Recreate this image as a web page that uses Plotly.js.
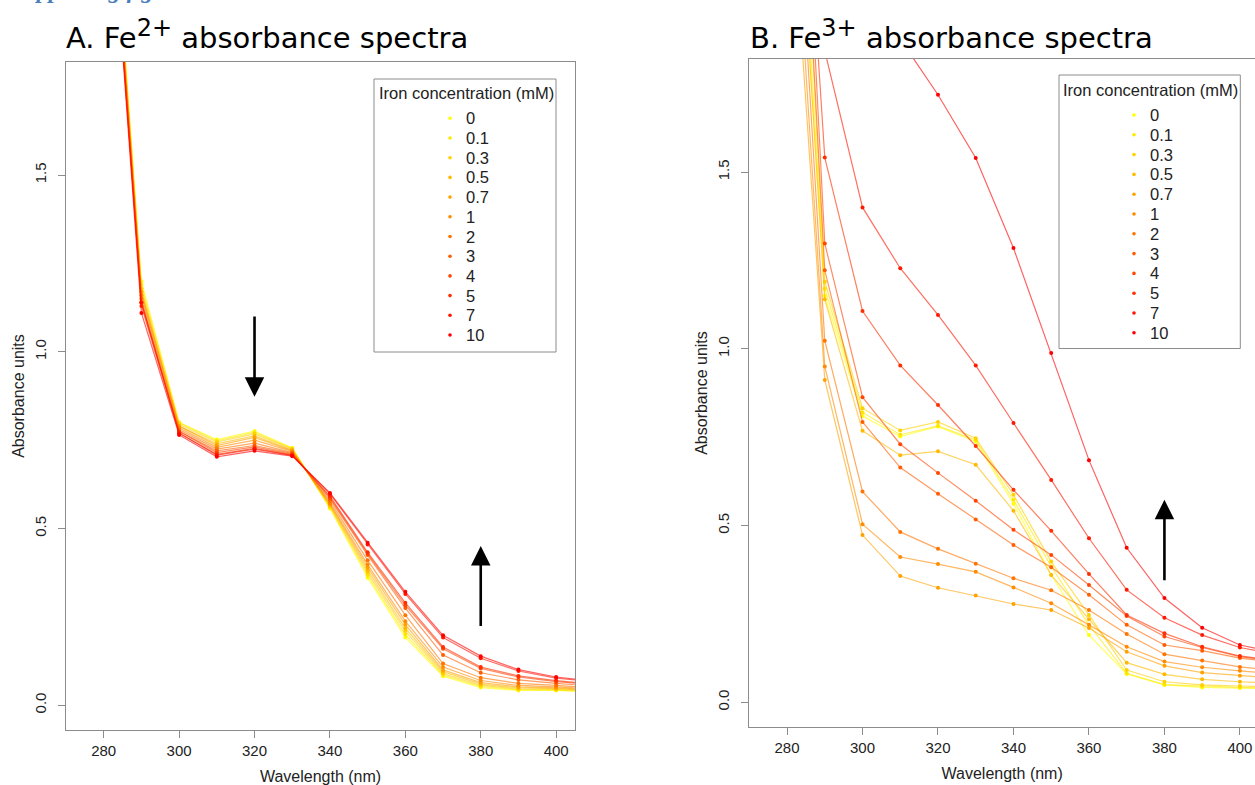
<!DOCTYPE html>
<html><head><meta charset="utf-8">
<script src="https://cdn.plot.ly/plotly-3.0.1.min.js"></script>
<style>html,body{margin:0;padding:0;background:#fff}#chart{width:1255px;height:785px}</style>
</head><body><div id="chart"></div>
<script>
// ---------- DATA ----------
const wavelengths = [280, 290, 300, 310, 320, 330, 340, 350, 360, 370, 380, 390, 400, 410];
const concentrations = ['0', '0.1', '0.3', '0.5', '0.7', '1', '2', '3', '4', '5', '7', '10'];
const seriesColors = ['#FFFF00', '#FFE800', '#FFD100', '#FFB900', '#FFA200', '#FF8B00',
                      '#FF7400', '#FF5D00', '#FF4600', '#FF2E00', '#FF1700', '#FF0000'];

// Fe2+ absorbance (panel A)
const fe2_c0   = [2.68, 1.20, 0.800, 0.752, 0.776, 0.728, 0.557, 0.361, 0.192, 0.082, 0.050, 0.042, 0.042, 0.038];
const fe2_c0_1 = [2.67, 1.19, 0.800, 0.748, 0.772, 0.727, 0.560, 0.368, 0.200, 0.086, 0.053, 0.044, 0.043, 0.039];
const fe2_c0_3 = [2.66, 1.18, 0.795, 0.745, 0.768, 0.725, 0.563, 0.375, 0.210, 0.090, 0.056, 0.046, 0.045, 0.040];
const fe2_c0_5 = [2.65, 1.17, 0.790, 0.740, 0.762, 0.722, 0.566, 0.382, 0.218, 0.095, 0.060, 0.049, 0.047, 0.042];
const fe2_c0_7 = [2.65, 1.17, 0.790, 0.735, 0.758, 0.720, 0.569, 0.390, 0.228, 0.100, 0.064, 0.052, 0.049, 0.044];
const fe2_c1   = [2.64, 1.16, 0.785, 0.730, 0.750, 0.718, 0.572, 0.398, 0.238, 0.108, 0.070, 0.056, 0.052, 0.046];
const fe2_c2   = [2.63, 1.15, 0.780, 0.725, 0.742, 0.715, 0.578, 0.410, 0.255, 0.118, 0.078, 0.062, 0.056, 0.049];
const fe2_c3   = [2.62, 1.14, 0.775, 0.720, 0.735, 0.713, 0.584, 0.425, 0.275, 0.142, 0.092, 0.072, 0.062, 0.054];
const fe2_c4   = [2.61, 1.14, 0.775, 0.715, 0.731, 0.710, 0.588, 0.429, 0.283, 0.160, 0.104, 0.080, 0.067, 0.058];
const fe2_c5   = [2.60, 1.13, 0.770, 0.710, 0.727, 0.708, 0.592, 0.433, 0.290, 0.165, 0.108, 0.083, 0.070, 0.060];
const fe2_c7   = [2.60, 1.14, 0.770, 0.708, 0.725, 0.707, 0.598, 0.455, 0.315, 0.192, 0.133, 0.097, 0.077, 0.066];
const fe2_c10  = [2.59, 1.11, 0.765, 0.703, 0.720, 0.705, 0.601, 0.460, 0.321, 0.198, 0.139, 0.101, 0.080, 0.068];

// Fe3+ absorbance (panel B)
const fe3_c0   = [2.83, 1.15, 0.810, 0.752, 0.780, 0.738, 0.562, 0.360, 0.190, 0.080, 0.049, 0.042, 0.040, 0.038];
const fe3_c0_1 = [2.95, 1.17, 0.820, 0.757, 0.782, 0.742, 0.573, 0.384, 0.219, 0.082, 0.050, 0.045, 0.042, 0.040];
const fe3_c0_3 = [3.20, 1.19, 0.832, 0.769, 0.793, 0.747, 0.587, 0.398, 0.247, 0.091, 0.058, 0.049, 0.046, 0.043];
const fe3_c0_5 = [2.84, 1.14, 0.768, 0.699, 0.710, 0.672, 0.542, 0.360, 0.235, 0.112, 0.079, 0.065, 0.058, 0.053];
const fe3_c0_7 = [2.48, 0.912, 0.473, 0.357, 0.324, 0.302, 0.278, 0.261, 0.210, 0.143, 0.103, 0.084, 0.075, 0.068];
const fe3_c1   = [2.62, 0.950, 0.504, 0.411, 0.391, 0.369, 0.325, 0.280, 0.219, 0.157, 0.115, 0.099, 0.089, 0.080];
const fe3_c2   = [2.79, 1.023, 0.596, 0.482, 0.434, 0.392, 0.351, 0.317, 0.261, 0.193, 0.136, 0.118, 0.100, 0.090];
const fe3_c3   = [3.22, 1.222, 0.793, 0.664, 0.590, 0.517, 0.445, 0.382, 0.304, 0.219, 0.162, 0.146, 0.125, 0.112];
const fe3_c4   = [3.39, 1.298, 0.863, 0.730, 0.649, 0.570, 0.488, 0.417, 0.332, 0.244, 0.186, 0.155, 0.129, 0.115];
const fe3_c5   = [3.18, 1.541, 1.107, 0.953, 0.841, 0.725, 0.601, 0.485, 0.363, 0.247, 0.195, 0.157, 0.131, 0.117];
const fe3_c7   = [3.00, 1.843, 1.400, 1.228, 1.096, 0.953, 0.790, 0.629, 0.464, 0.318, 0.239, 0.190, 0.155, 0.135];
const fe3_c10  = [3.10, 2.250, 2.050, 1.876, 1.719, 1.540, 1.285, 0.988, 0.685, 0.437, 0.295, 0.211, 0.162, 0.140];

const xTickVals = [280, 300, 320, 340, 360, 380, 400];
const yTickVals = [0, 0.5, 1, 1.5];

const fe2Series = [fe2_c0, fe2_c0_1, fe2_c0_3, fe2_c0_5, fe2_c0_7, fe2_c1, fe2_c2, fe2_c3, fe2_c4, fe2_c5, fe2_c7, fe2_c10];
const fe3Series = [fe3_c0, fe3_c0_1, fe3_c0_3, fe3_c0_5, fe3_c0_7, fe3_c1, fe3_c2, fe3_c3, fe3_c4, fe3_c5, fe3_c7, fe3_c10];

// ---------- BUILD ----------
const W = 1255, H = 785;
const px = v => v / W;
const py = v => 1 - v / H;

function hexToRgba(hex, a) {
  const r = parseInt(hex.slice(1, 3), 16), g = parseInt(hex.slice(3, 5), 16), b = parseInt(hex.slice(5, 7), 16);
  return `rgba(${r},${g},${b},${a})`;
}

const traces = [];
function addPanel(series, xa, ya) {
  series.forEach((vals, i) => {
    traces.push({
      type: 'scatter', mode: 'lines+markers',
      x: wavelengths, y: vals, xaxis: xa, yaxis: ya,
      name: concentrations[i], showlegend: false, hoverinfo: 'x+y+name',
      line: { color: hexToRgba(seriesColors[i], 0.62), width: 1.2 },
      marker: { color: seriesColors[i], size: 4 }
    });
  });
}
addPanel(fe2Series, 'x', 'y');
addPanel(fe3Series, 'x2', 'y2');

const fontMain = 'Liberation Sans, Arial, sans-serif';
const axisLine = '#8c8c8c';
function xAxis(domain, range, mirror, yanchor) {
  return {
    domain, range, anchor: yanchor, showline: true, mirror, linecolor: axisLine, linewidth: 1,
    ticks: 'outside', ticklen: 7, tickcolor: axisLine, tickvals: xTickVals,
    showgrid: false, zeroline: false, ticklabelstandoff: 0,
    tickfont: { family: fontMain, size: 15, color: '#222' },
    title: { text: 'Wavelength (nm)', font: { family: fontMain, size: 16, color: '#222' }, standoff: 12 }
  };
}
function yAxis(domain, mirror, xanchor) {
  return {
    domain, range: [-0.07, 1.82], anchor: xanchor, showline: true, mirror, linecolor: axisLine, linewidth: 1,
    ticks: 'outside', ticklen: 7, tickcolor: axisLine, tickvals: yTickVals, tickformat: '.1f',
    tickangle: -90, showgrid: false, zeroline: false, ticklabelstandoff: 6,
    tickfont: { family: fontMain, size: 15, color: '#222' },
    title: { text: 'Absorbance units', font: { family: fontMain, size: 16, color: '#222' }, standoff: 3 }
  };
}

const shapes = [];
const annotations = [];

// panel titles
const titleFont = { family: 'DejaVu Sans, Verdana, sans-serif', size: 29, color: '#000' };
annotations.push({
  xref: 'paper', yref: 'paper', x: px(64), y: py(35), xanchor: 'left', yanchor: 'middle',
  text: 'A. Fe<sup><span style="font-size:24px">2+</span></sup> absorbance spectra', showarrow: false, font: titleFont
});
annotations.push({
  xref: 'paper', yref: 'paper', x: px(748), y: py(35), xanchor: 'left', yanchor: 'middle',
  text: 'B. Fe<sup><span style="font-size:24px">3+</span></sup> absorbance spectra', showarrow: false, font: titleFont
});
// cut-off page heading
annotations.push({
  xref: 'paper', yref: 'paper', x: px(8), y: py(-10), xanchor: 'left', yanchor: 'middle',
  text: '<b><i>Supporting figures</i></b>', showarrow: false,
  font: { family: 'Liberation Serif, DejaVu Serif, serif', size: 24, color: '#4a7ebb' }
});

// trend arrows (data coordinates)
function arrow(xa, ya, x, yFrom, yTo) {
  annotations.push({
    xref: xa, yref: ya, axref: xa, ayref: ya, x: x, y: yTo, ax: x, ay: yFrom,
    showarrow: true, arrowhead: 2, arrowsize: 1.5, arrowwidth: 2.6, arrowcolor: '#000', text: ''
  });
}
arrow('x', 'y', 320, 1.104, 0.873);
arrow('x', 'y', 380, 0.220, 0.451);
arrow('x2', 'y2', 380, 0.341, 0.573);

// legends
function legend(box) {
  shapes.push({
    type: 'rect', xref: 'paper', yref: 'paper',
    x0: px(box.left), x1: px(box.right), y0: py(box.bottom), y1: py(box.top),
    line: { color: '#8c8c8c', width: 1 }, fillcolor: '#fff', layer: 'above'
  });
  annotations.push({
    xref: 'paper', yref: 'paper', x: px(box.titleX), y: py(box.titleY), xanchor: 'center', yanchor: 'middle',
    text: 'Iron concentration (mM)', showarrow: false, font: { family: fontMain, size: 16.5, color: '#222' }
  });
  concentrations.forEach((c, i) => {
    const yy = box.firstY + i * box.step;
    shapes.push({
      type: 'circle', xref: 'paper', yref: 'paper', layer: 'above',
      x0: px(box.dotX - 1.8), x1: px(box.dotX + 1.8), y0: py(yy + 1.8), y1: py(yy - 1.8),
      fillcolor: seriesColors[i], line: { width: 0 }
    });
    annotations.push({
      xref: 'paper', yref: 'paper', x: px(box.textX - 2), y: py(yy), xanchor: 'left', yanchor: 'middle',
      text: c, showarrow: false, font: { family: fontMain, size: 16.5, color: '#222' }
    });
  });
}
legend({ left: 374, top: 79, right: 556, bottom: 352, titleX: 466, titleY: 93.5, dotX: 450, textX: 465.7, firstY: 118.3, step: 19.7 });
legend({ left: 1059, top: 75, right: 1240.3, bottom: 348.5, titleX: 1150.5, titleY: 90, dotX: 1134, textX: 1150, firstY: 115, step: 19.8 });

const layout = {
  width: W, height: H, margin: { l: 0, r: 0, t: 0, b: 0 },
  paper_bgcolor: '#fff', plot_bgcolor: '#fff', showlegend: false,
  xaxis: xAxis([px(66), px(575)], [270, 405], true, 'y'),
  yaxis: yAxis([1 - 730 / H, 1 - 62.1 / H], true, 'x'),
  xaxis2: xAxis([px(749.3), 1], [270, 404], true, 'y2'),
  yaxis2: yAxis([1 - 727 / H, 1 - 59 / H], false, 'x2'),
  shapes, annotations
};

Plotly.newPlot('chart', traces, layout, { displayModeBar: false, staticPlot: true });
</script>
</body></html>
